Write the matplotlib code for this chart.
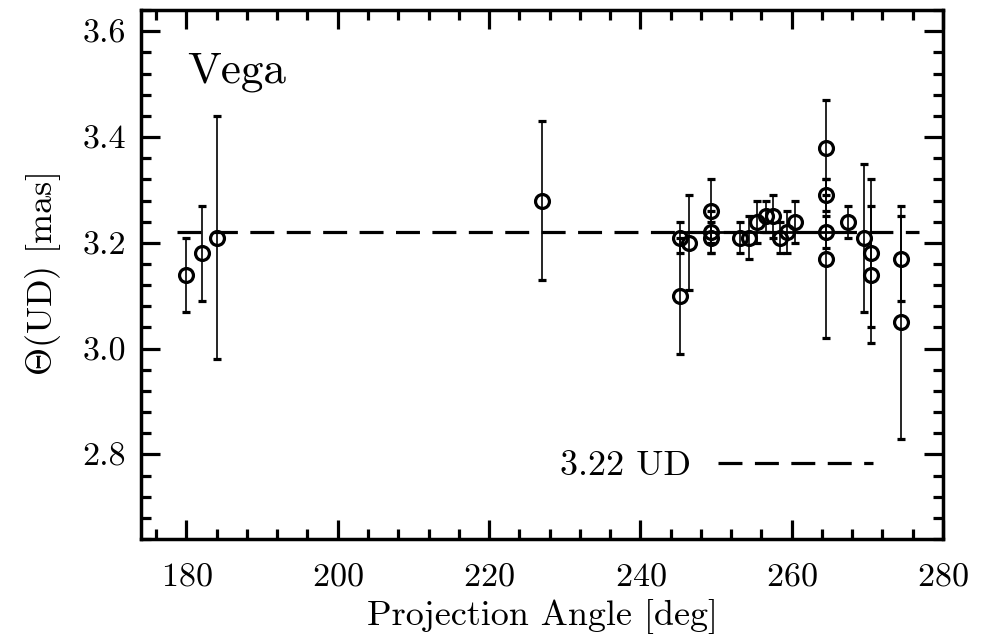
import numpy as np
import matplotlib.pyplot as plt
from matplotlib.ticker import MultipleLocator

# Vega uniform disk diameters vs projection angle
angle = [180.0, 182.0, 184.0, 227.0,
         245.3, 245.3, 246.4, 249.4, 249.4, 249.4,
         253.2, 254.3, 255.4, 256.6, 257.5, 258.4, 259.4, 260.5,
         264.5, 264.5, 264.5, 264.5, 267.5, 269.5, 270.5, 270.5,
         274.5, 274.5]
theta_ud = [3.14, 3.18, 3.21, 3.28,
            3.21, 3.10, 3.20, 3.26, 3.22, 3.21,
            3.21, 3.21, 3.24, 3.25, 3.25, 3.21, 3.22, 3.24,
            3.38, 3.29, 3.22, 3.17, 3.24, 3.21, 3.18, 3.14,
            3.17, 3.05]
theta_err = [0.07, 0.09, 0.23, 0.15,
             0.03, 0.11, 0.09, 0.06, 0.04, 0.03,
             0.03, 0.04, 0.04, 0.03, 0.04, 0.03, 0.04, 0.04,
             0.09, 0.03, 0.03, 0.15, 0.03, 0.14, 0.14, 0.13,
             0.08, 0.22]

ud_fit = 3.22
fit_range = [178.7, 276.8]
dense_range = [245.3, 267.5]

plt.rcParams['font.family'] = 'cmr10'
plt.rcParams['mathtext.fontset'] = 'cm'
plt.rcParams['axes.formatter.use_mathtext'] = True

fig = plt.figure(figsize=(9.94, 6.36), dpi=100)
ax = fig.add_axes([0.1419, 0.1525, 0.8068, 0.8315])

# fit line
ax.plot(fit_range, [ud_fit, ud_fit], color='black', lw=2.3, ls=(0, (7.5, 3.9)),
        label='3.22 UD', zorder=1)
ax.plot(dense_range, [ud_fit, ud_fit], color='black', lw=2.0, zorder=1)

ax.errorbar(angle, theta_ud, yerr=theta_err, fmt='o', mfc='none', mec='black',
            ms=10, mew=2.3, ecolor='black', elinewidth=1.2, capsize=3.0,
            capthick=1.2, zorder=2)

ax.set_xlim(174, 280)
ax.set_ylim(2.64, 3.64)
ax.xaxis.set_major_locator(MultipleLocator(20))
ax.xaxis.set_minor_locator(MultipleLocator(4))
ax.yaxis.set_major_locator(MultipleLocator(0.2))
ax.yaxis.set_minor_locator(MultipleLocator(0.04))
ax.yaxis.set_major_formatter(plt.FormatStrFormatter('%.1f'))

ax.tick_params(which='both', direction='in', top=True, right=True, width=2.3,
               labelsize=24.5)
ax.tick_params(axis='x', which='both', pad=17)
ax.tick_params(axis='y', which='both', pad=11)
ax.tick_params(which='major', length=14)
ax.tick_params(which='minor', length=7.5)
for s in ax.spines.values():
    s.set_linewidth(2.5)

ax.set_xlabel('Projection Angle [deg]', fontsize=26, labelpad=5)
ax.set_ylabel(r'$\Theta$(UD) [mas]', fontsize=26, labelpad=14)

ax.text(0.058, 0.864, 'Vega', transform=ax.transAxes, fontsize=32.5)

ax.legend(loc='center right', frameon=False, fontsize=26, markerfirst=False,
          handlelength=4.3, handletextpad=0.75, borderpad=0, borderaxespad=0,
          bbox_to_anchor=(0.913, 0.138))

fig.savefig('out.png', dpi=100)
